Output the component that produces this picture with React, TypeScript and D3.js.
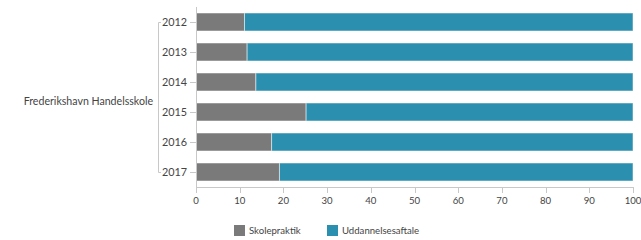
import React from 'react';
import * as d3 from 'd3';

const years = ['2012', '2013', '2014', '2015', '2016', '2017'];
const skolepraktik = [11.1, 11.7, 13.7, 25.2, 17.3, 19.1];
const uddannelsesaftale = [88.9, 88.3, 86.3, 74.8, 82.7, 80.9];
const seriesNames = ['Skolepraktik', 'Uddannelsesaftale'];
const seriesColors = ['#7a7a7a', '#2b8fb0'];
const groupLabel = 'Frederikshavn Handelsskole';
const xTicks = [0, 10, 20, 30, 40, 50, 60, 70, 80, 90, 100];

const W = 641;
const H = 240;
const FONT = 'Lato, "Open Sans", sans-serif';
const TEXT = '#444';
const AXIS = '#c8c8c8';

export default function App() {
  const x = d3.scaleLinear().domain([0, 100]).range([196, 633]);
  const y = d3.scaleBand().domain(years).range([7, 187]).paddingInner(0.4).paddingOuter(0.2);

  const rows = years.map((yr, i) => ({ yr, vals: [skolepraktik[i], uddannelsesaftale[i]] }));
  const stack = d3.stack<any>().keys(['0', '1'])(rows.map((r) => ({ '0': r.vals[0], '1': r.vals[1] })));

  const first = y(years[0])! + y.bandwidth() / 2;
  const last = y(years[years.length - 1])! + y.bandwidth() / 2;

  return (
    <svg width={W} height={H} style={{ display: 'block', position: 'absolute', left: 0, top: 0 }}>
      <rect width={W} height={H} fill="#fff" />
      {stack.map((s, si) =>
        s.map((d, i) => (
          <rect
            key={si + '-' + i}
            x={x(d[0])}
            y={y(years[i])}
            width={x(d[1]) - x(d[0])}
            height={y.bandwidth()}
            fill={seriesColors[si]}
            stroke="#ffffff"
            strokeOpacity={0.5}
            strokeWidth={1}
          />
        ))
      )}
      {/* y axis */}
      <line x1={196.5} x2={196.5} y1={7} y2={188} stroke={AXIS} />
      {years.map((yr) => {
        const cy = y(yr)! + y.bandwidth() / 2;
        return (
          <g key={yr}>
            <line x1={190} x2={196} y1={cy + 0.5} y2={cy + 0.5} stroke={AXIS} />
            <text x={187} y={cy} dy="0.35em" textAnchor="end" fontFamily={FONT} fontSize={10.8} fill={TEXT}>
              {yr}
            </text>
          </g>
        );
      })}
      {/* group bracket */}
      <path
        d={`M161,${first + 0.5}H158.5V${last + 0.5}H161`}
        fill="none"
        stroke={AXIS}
      />
      <text x={153} y={(first + last) / 2 + 4} dy="0.35em" textAnchor="end" fontFamily={FONT} fontSize={10.6} fill={TEXT}>
        {groupLabel}
      </text>
      {/* x axis */}
      <line x1={196} x2={634} y1={187.5} y2={187.5} stroke={AXIS} />
      {xTicks.map((t) => (
        <g key={t}>
          <line x1={Math.round(x(t)) + 0.5} x2={Math.round(x(t)) + 0.5} y1={187} y2={193} stroke={AXIS} />
          <text x={x(t)} y={201} dy="0.35em" textAnchor="middle" fontFamily={FONT} fontSize={9.6} fill={TEXT}>
            {t}
          </text>
        </g>
      ))}
      {/* legend */}
      {seriesNames.map((n, i) => {
        const lx = i === 0 ? 234 : 327;
        return (
          <g key={n}>
            <rect x={lx} y={225} width={11} height={11} fill={seriesColors[i]} />
            <text x={lx + 15} y={231} dy="0.35em" fontFamily={FONT} fontSize={9.6} fill={TEXT}>
              {n}
            </text>
          </g>
        );
      })}
    </svg>
  );
}
